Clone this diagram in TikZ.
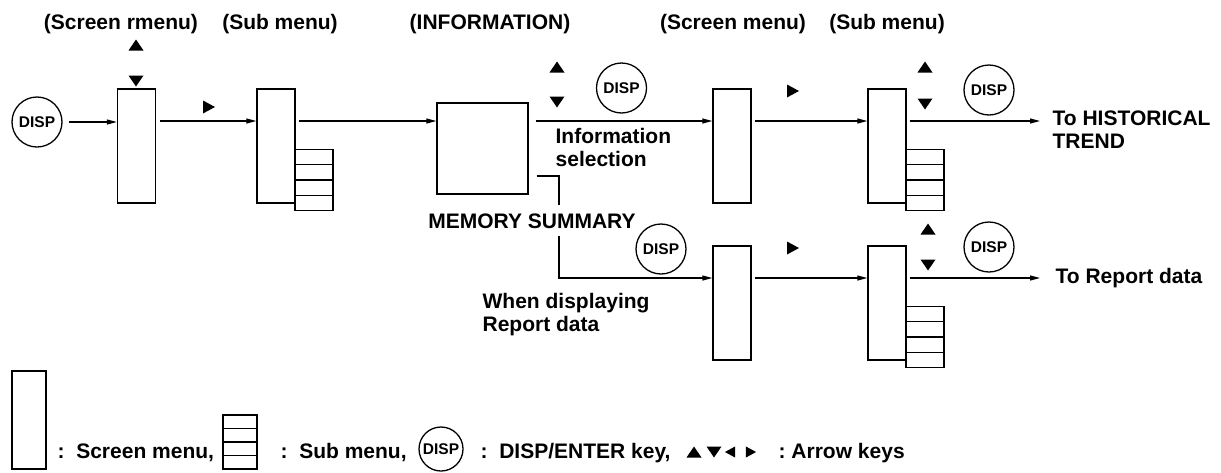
\documentclass[tikz,border=0pt]{standalone}
\usepackage{fontspec}
\setmainfont{Liberation Sans}
\usetikzlibrary{arrows.meta,calc}

\tikzset{
  tup/.pic={\fill (-7.5,5.5) -- (7.5,5.5) -- (0,-5.5) -- cycle;},
  tdn/.pic={\fill (-7.5,-5.5) -- (7.5,-5.5) -- (0,5.5) -- cycle;},
  trt/.pic={\fill (-6,-6.5) -- (-6,6.5) -- (6,0) -- cycle;},
  tlt/.pic={\fill (6,-6.5) -- (6,6.5) -- (-6,0) -- cycle;}}

\begin{document}
\begin{tikzpicture}[x=1pt,y=-1pt,line width=1.3pt,
    font=\bfseries\fontsize{21}{23}\selectfont,
    scr/.style={draw,minimum width=38pt,minimum height=114pt,inner sep=0pt},
    stk/.style={draw,minimum width=38pt,minimum height=61pt,inner sep=0pt,
      path picture={\foreach \f in {0.25,0.5,0.75}
        \draw ($(path picture bounding box.north west)!\f!(path picture bounding box.south west)$) -- ($(path picture bounding box.north east)!\f!(path picture bounding box.south east)$);}},
    dkey/.style={circle,draw,minimum size=50pt,inner sep=0pt,font=\bfseries\fontsize{15.5}{16}\selectfont},
    arr/.style={-{Triangle[length=10pt,width=5pt]},line width=1.2pt},
    lbl/.style={inner sep=0pt,align=left}]
\useasboundingbox (0,0) rectangle (1221,472);
% captions
\node[lbl,anchor=base] (c1) at (121,29) {(Screen rmenu)};
\node[lbl,anchor=base] (c2) at (280,29) {(Sub menu)};
\node[lbl,anchor=base] (c3) at (490,29) {(INFORMATION)};
\node[lbl,anchor=base] (c4) at (733,29) {(Screen menu)};
\node[lbl,anchor=base] (c5) at (887,29) {(Sub menu)};
% upper row
\node[dkey] (d1) at (37,122) {DISP};
\node[scr] (m1) at (136.5,146) {};
\node[scr] (m2) at (276,146) {};
\node[stk] (k2) at (314,180) {};
\node[draw,minimum size=91pt,inner sep=0pt] (inf) at (482.5,148.5) {};
\node[scr] (m3) at (732,146) {};
\node[scr] (m4) at (887,146) {};
\node[stk] (k4) at (925,180) {};
\node[dkey] (d2) at (621.5,88) {DISP};
\node[dkey] (d3) at (989,90) {DISP};
\coordinate (e1) at (1040,121);
% lower row
\node[scr] (m5) at (732,303) {};
\node[scr] (m6) at (887,303) {};
\node[stk] (k6) at (925,337) {};
\node[dkey] (d4) at (661,249) {DISP};
\node[dkey] (d5) at (989,247) {DISP};
\coordinate (e2) at (1040,278);
\coordinate (b1) at (559,278);
% arrow keys
\pic (u1) at (136,45) {tup};
\pic (w1) at (136,81) {tdn};
\pic (r1) at (209,107) {trt};
\pic (u2) at (557,67) {tup};
\pic (w2) at (557,102) {tdn};
\pic (r2) at (793,91) {trt};
\pic (u3) at (925,67) {tup};
\pic (w3) at (925,104) {tdn};
\pic (r3) at (793,248) {trt};
\pic (u4) at (928,229) {tup};
\pic (w4) at (928,265) {tdn};
% connectors
\draw[arr,shorten <=6pt] (d1.east) -- (d1.east -| m1.west);
\draw[arr,shorten <=4pt] ([yshift=25pt]m1.east) -- ([yshift=25pt]m2.west);
\draw[arr,shorten <=3pt] ([yshift=25pt]m2.east) -- ([yshift=25pt]m2.east -| inf.west);
\draw[arr,shorten <=7pt] ([yshift=25pt]m3.west -| inf.east) -- ([yshift=25pt]m3.west);
\draw[arr,shorten <=3pt] ([yshift=25pt]m3.east) -- ([yshift=25pt]m4.west);
\draw[arr,shorten <=3pt] ([yshift=25pt]m4.east) -- (e1);
\draw[arr,shorten <=8pt] ([yshift=-27.5pt]inf.east) -| (b1) -- (b1 -| m5.west);
\draw[arr,shorten <=3pt] ([yshift=25pt]m5.east) -- ([yshift=25pt]m6.west);
\draw[arr,shorten <=3pt] ([yshift=25pt]m6.east) -- (e2);
% labels
\node[lbl,fill=white,inner xsep=2pt,inner ysep=8pt,anchor=base] (ms) at (532,228) {MEMORY SUMMARY};
\node[lbl,anchor=north west] (is) at (555,128) {Information\\selection};
\node[lbl,anchor=north west] (ht) at (1052,110) {To HISTORICAL\\TREND};
\node[lbl,anchor=base west] (rp) at (1055,283) {To Report data};
\node[lbl,anchor=north west] (wd) at (482,293) {When displaying\\Report data};
% legend
\node[scr,minimum width=34pt,minimum height=98pt] (l1) at (29,420) {};
\node[lbl,anchor=base west] (l1t) at (57,458) {:~~Screen menu,};
\node[stk,minimum width=34pt,minimum height=54pt] (l2) at (240,442) {};
\node[lbl,anchor=base west] (l2t) at (280,458) {:~~Sub menu,};
\node[dkey,minimum size=44pt] (l3) at (441,449) {DISP};
\node[lbl,anchor=base west] (l3t) at (480,458) {:~~DISP/ENTER key,};
\pic (a1) at (694,452) {tup};
\pic (a2) at (714,452) {tdn};
\pic[scale=0.85] (a3) at (730,452) {tlt};
\pic[scale=0.85] (a4) at (751,452) {trt};
\node[lbl,anchor=base west] (l4t) at (778,458) {:~Arrow keys};
\end{tikzpicture}
\end{document}
